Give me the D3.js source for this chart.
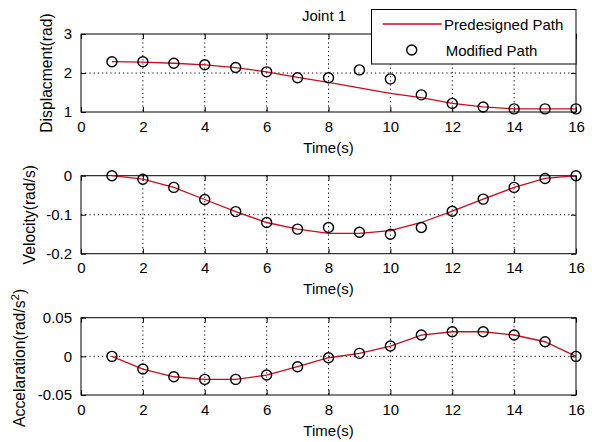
<!DOCTYPE html>
<html lang="en">
<head>
<meta charset="UTF-8">
<title>Joint 1</title>
<script src="https://d3js.org/d3.v7.min.js"></script>
<style>
    body {
        margin: 0;
        background: #fff;
    }

    svg, .axis {
        font: 15px "Liberation Sans", Arial, sans-serif;
    }

    .ylabel {
        font-size: 15.7px;
    }

    .grid line {
        stroke: #000;
        stroke-dasharray: 1.2, 3;
    }

    .axis path {
        display: none;
    }

    .axis line {
        stroke: #000;
    }

    .axis text {
        fill: #000;
    }
</style>
</head>
<body>
<div id="chart"></div>
<script>

    // data
    var time = [1, 2, 3, 4, 5, 6, 7, 8, 9, 10, 11, 12, 13, 14, 15, 16];
    var xTicks = [0, 2, 4, 6, 8, 10, 12, 14, 16];

    var dispPre = [2.29, 2.28, 2.25, 2.21, 2.14, 2.03, 1.89, 1.76, 1.62, 1.48, 1.37, 1.22, 1.13, 1.08, 1.08, 1.08];
    var dispMod = [2.29, 2.29, 2.25, 2.21, 2.14, 2.03, 1.88, 1.88, 2.08, 1.85, 1.44, 1.22, 1.13, 1.08, 1.08, 1.08];
    var dispTicks = [1, 2, 3];

    var velPre = [0, -0.009, -0.030, -0.061, -0.092, -0.120, -0.137, -0.148, -0.148, -0.141, -0.120, -0.091, -0.060, -0.030, -0.007, 0];
    var velMod = [0, -0.009, -0.030, -0.061, -0.092, -0.120, -0.137, -0.133, -0.145, -0.150, -0.133, -0.091, -0.060, -0.030, -0.007, 0];
    var velTicks = [-0.2, -0.1, 0];

    var accPre = [0, -0.0164, -0.0264, -0.0298, -0.0298, -0.0242, -0.0134, -0.0018, 0.0039, 0.0133, 0.0276, 0.0318, 0.0318, 0.0276, 0.0189, 0];
    var accMod = [0, -0.0164, -0.0264, -0.0298, -0.0298, -0.0242, -0.0134, -0.0018, 0.0039, 0.0133, 0.0276, 0.0318, 0.0318, 0.0276, 0.0189, 0];
    var accTicks = [-0.05, 0, 0.05];

    var legendLabels = ["Predesigned Path", "Modified Path"];

    var width = 592,
        height = 442,
        lineColor = "#cc0a1e";

    var svg = d3.select("#chart").append("svg")
        .attr("width", width)
        .attr("height", height);

    var x = d3.scaleLinear()
        .domain([0, 16])
        .range([81, 576]);

    var panels = [
        {top: 34, bottom: 112, domain: [1, 3], ticks: dispTicks, pre: dispPre, mod: dispMod,
            fmt: d3.format("d"), label: "Displacment(rad)", labelX: 52},
        {top: 175.7, bottom: 253.7, domain: [-0.2, 0], ticks: velTicks, pre: velPre, mod: velMod,
            fmt: function(d) { return d === 0 ? "0" : d3.format(".1f")(d).replace("−", "-"); },
            label: "Velocity(rad/s)", labelX: 35},
        {top: 317.7, bottom: 395, domain: [-0.05, 0.05], ticks: accTicks, pre: accPre, mod: accMod,
            fmt: function(d) { return d === 0 ? "0" : d3.format(".2f")(d).replace("−", "-"); },
            label: "Accelaration(rad/s", sup: "2", labelX: 25}
    ];

    panels.forEach(drawPanel);

    function drawPanel(p) {
        var y = d3.scaleLinear()
            .domain(p.domain)
            .range([p.bottom, p.top]);

        var g = svg.append("g");

        // dotted grid
        g.append("g").attr("class", "grid")
            .selectAll("line")
            .data(xTicks.slice(1, -1))
            .enter().append("line")
            .attr("x1", function(d) { return x(d); })
            .attr("x2", function(d) { return x(d); })
            .attr("y1", p.top)
            .attr("y2", p.bottom);

        g.append("g").attr("class", "grid")
            .selectAll("line")
            .data(p.ticks.slice(1, -1))
            .enter().append("line")
            .attr("x1", x(0))
            .attr("x2", x(16))
            .attr("y1", function(d) { return y(d); })
            .attr("y2", function(d) { return y(d); });

        // axes, ticks pointing inwards
        g.append("g").attr("class", "axis")
            .attr("transform", "translate(0," + p.bottom + ")")
            .call(d3.axisBottom(x).tickValues(xTicks).tickSizeInner(-5).tickSizeOuter(0).tickPadding(9));

        g.append("g").attr("class", "axis")
            .attr("transform", "translate(0," + p.top + ")")
            .call(d3.axisTop(x).tickValues(xTicks).tickSizeInner(-5).tickSizeOuter(0).tickFormat(""));

        g.append("g").attr("class", "axis")
            .attr("transform", "translate(" + x(0) + ",0)")
            .call(d3.axisLeft(y).tickValues(p.ticks).tickFormat(p.fmt).tickSizeInner(-5).tickSizeOuter(0).tickPadding(9));

        g.append("g").attr("class", "axis")
            .attr("transform", "translate(" + x(16) + ",0)")
            .call(d3.axisRight(y).tickValues(p.ticks).tickSizeInner(-5).tickSizeOuter(0).tickFormat(""));

        g.append("rect")
            .attr("x", x(0))
            .attr("y", p.top)
            .attr("width", x(16) - x(0))
            .attr("height", p.bottom - p.top)
            .attr("fill", "none")
            .attr("stroke", "#000");

        // predesigned path
        var line = d3.line()
            .x(function(d, i) { return x(time[i]); })
            .y(function(d) { return y(d); });

        g.append("path")
            .datum(p.pre)
            .attr("d", line)
            .attr("fill", "none")
            .attr("stroke", lineColor)
            .attr("stroke-width", 1.3);

        // modified path
        g.selectAll(".dot")
            .data(p.mod)
            .enter().append("circle")
            .attr("class", "dot")
            .attr("cx", function(d, i) { return x(time[i]); })
            .attr("cy", function(d) { return y(d); })
            .attr("r", 5)
            .attr("fill", "none")
            .attr("stroke", "#000")
            .attr("stroke-width", 1.4);

        g.append("text")
            .attr("x", (x(0) + x(16)) / 2)
            .attr("y", p.bottom + 40.5)
            .attr("text-anchor", "middle")
            .text("Time(s)");

        var yl = g.append("text")
            .attr("class", "ylabel")
            .attr("transform", "translate(" + p.labelX + "," + ((p.top + p.bottom) / 2 + (p.sup ? 1.5 : 0)) + ") rotate(-90)")
            .attr("text-anchor", "middle")
            .text(p.label);
        if (p.sup) {
            yl.append("tspan").attr("dy", -6).attr("font-size", 11.5).text(p.sup);
            yl.append("tspan").attr("dy", 6).text(")");
        }
    }

    // title
    svg.append("text")
        .attr("x", 324)
        .attr("y", 20.5)
        .attr("text-anchor", "middle")
        .text("Joint 1");

    // legend
    var legend = svg.append("g");

    legend.append("rect")
        .attr("x", 371.5)
        .attr("y", 9.5)
        .attr("width", 204.5)
        .attr("height", 54.5)
        .attr("fill", "#fff")
        .attr("stroke", "#000");

    legend.append("line")
        .attr("x1", 382.7)
        .attr("x2", 441.7)
        .attr("y1", 24)
        .attr("y2", 24)
        .attr("stroke", lineColor)
        .attr("stroke-width", 1.3);

    legend.append("circle")
        .attr("cx", 411.7)
        .attr("cy", 50)
        .attr("r", 5)
        .attr("fill", "none")
        .attr("stroke", "#000")
        .attr("stroke-width", 1.4);

    legend.selectAll(".lab")
        .data(legendLabels)
        .enter().append("text")
        .attr("class", "lab")
        .attr("x", function(d, i) { return i ? 445.7 : 444; })
        .attr("y", function(d, i) { return i ? 55.5 : 29.5; })
        .text(function(d) { return d; });

</script>
</body>
</html>
